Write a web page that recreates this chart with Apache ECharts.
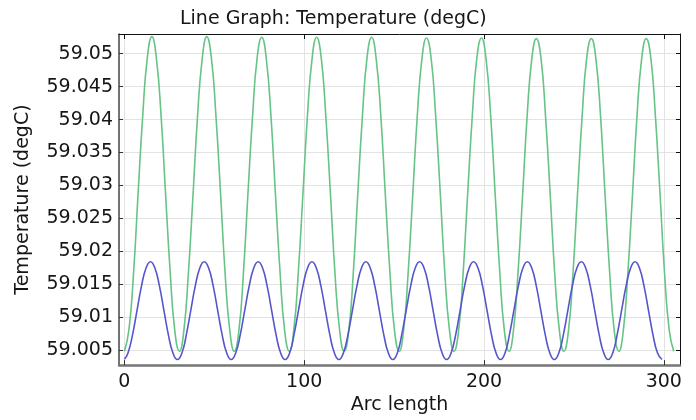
<!DOCTYPE html>
<html>
<head>
<meta charset="utf-8">
<script src="https://cdn.jsdelivr.net/npm/echarts@6/dist/echarts.min.js"></script>
<style>
  html, body { margin: 0; padding: 0; background: #ffffff; }
  #chart { width: 696px; height: 420px; }
</style>
</head>
<body>
<div id="chart"></div>
<script>
// Temperature along the arc, upper (green) line
const greenArc = [
  0, 2.5, 5.1, 7.6, 10.2, 12.7, 15.3, 17.8, 20.4, 22.9, 25.5, 28.0,
  30.6, 33.1, 35.6, 38.2, 40.7, 43.3, 45.8, 48.4, 50.9, 53.5, 56.0, 58.6,
  61.1, 63.7, 66.2, 68.7, 71.3, 73.8, 76.4, 78.9, 81.5, 84.0, 86.6, 89.1,
  91.7, 94.2, 96.7, 99.3, 101.8, 104.4, 106.9, 109.5, 112.0, 114.6, 117.1, 119.7,
  122.2, 124.8, 127.3, 129.8, 132.4, 134.9, 137.5, 140.0, 142.6, 145.1, 147.7, 150.2,
  152.8, 155.3, 157.8, 160.4, 162.9, 165.5, 168.0, 170.6, 173.1, 175.7, 178.2, 180.8,
  183.3, 185.9, 188.4, 190.9, 193.5, 196.0, 198.6, 201.1, 203.7, 206.2, 208.8, 211.3,
  213.9, 216.4, 218.9, 221.5, 224.0, 226.6, 229.1, 231.7, 234.2, 236.8, 239.3, 241.9,
  244.4, 247.0, 249.5, 252.0, 254.6, 257.1, 259.7, 262.2, 264.8, 267.3, 269.9, 272.4,
  275.0, 277.5, 280.0, 282.6, 285.1, 287.7, 290.2, 292.8, 295.3, 297.9, 300.4, 303.0,
  305.5
];
const greenTemp = [
  59.0048, 59.0080, 59.0167, 59.0287, 59.0406, 59.0493, 59.0526, 59.0493, 59.0406, 59.0287, 59.0167, 59.0080,
  59.0048, 59.0080, 59.0167, 59.0287, 59.0406, 59.0493, 59.0526, 59.0493, 59.0406, 59.0287, 59.0167, 59.0080,
  59.0048, 59.0080, 59.0167, 59.0287, 59.0406, 59.0493, 59.0525, 59.0493, 59.0406, 59.0287, 59.0167, 59.0080,
  59.0048, 59.0080, 59.0167, 59.0287, 59.0406, 59.0493, 59.0525, 59.0493, 59.0406, 59.0287, 59.0167, 59.0080,
  59.0048, 59.0080, 59.0167, 59.0287, 59.0406, 59.0493, 59.0525, 59.0493, 59.0406, 59.0287, 59.0167, 59.0080,
  59.0048, 59.0080, 59.0167, 59.0287, 59.0406, 59.0493, 59.0524, 59.0493, 59.0406, 59.0287, 59.0167, 59.0080,
  59.0048, 59.0080, 59.0167, 59.0287, 59.0406, 59.0493, 59.0524, 59.0493, 59.0406, 59.0287, 59.0167, 59.0080,
  59.0048, 59.0080, 59.0167, 59.0287, 59.0406, 59.0493, 59.0523, 59.0493, 59.0406, 59.0287, 59.0167, 59.0080,
  59.0048, 59.0080, 59.0167, 59.0287, 59.0406, 59.0493, 59.0523, 59.0493, 59.0406, 59.0287, 59.0167, 59.0080,
  59.0048, 59.0080, 59.0167, 59.0287, 59.0406, 59.0493, 59.0523, 59.0493, 59.0406, 59.0287, 59.0167, 59.0080,
  59.0048
];

// Temperature along the arc, lower (blue) line
const blueArc = [
  0, 2.0, 4.5, 7.0, 9.5, 12.0, 14.5, 17.0, 19.5, 22.0, 24.5, 27.0,
  29.5, 32.0, 34.4, 36.9, 39.4, 41.9, 44.4, 46.9, 49.4, 51.9, 54.4, 56.9,
  59.4, 61.9, 64.4, 66.9, 69.4, 71.9, 74.4, 76.9, 79.4, 81.9, 84.4, 86.9,
  89.4, 91.9, 94.3, 96.8, 99.3, 101.8, 104.3, 106.8, 109.3, 111.8, 114.3, 116.8,
  119.3, 121.8, 124.3, 126.8, 129.3, 131.8, 134.3, 136.8, 139.3, 141.8, 144.3, 146.8,
  149.3, 151.8, 154.2, 156.7, 159.2, 161.7, 164.2, 166.7, 169.2, 171.7, 174.2, 176.7,
  179.2, 181.7, 184.2, 186.7, 189.2, 191.7, 194.2, 196.7, 199.2, 201.7, 204.2, 206.7,
  209.2, 211.7, 214.1, 216.6, 219.1, 221.6, 224.1, 226.6, 229.1, 231.6, 234.1, 236.6,
  239.1, 241.6, 244.1, 246.6, 249.1, 251.6, 254.1, 256.6, 259.1, 261.6, 264.1, 266.6,
  269.1, 271.6, 274.0, 276.5, 279.0, 281.5, 284.0, 286.5, 289.0, 291.5, 294.0, 296.5,
  299.0
];
const blueTemp = [
  59.00360, 59.00455, 59.00726, 59.01098, 59.01469, 59.01740, 59.01840, 59.01740, 59.01469, 59.01098, 59.00726, 59.00455,
  59.00355, 59.00455, 59.00726, 59.01098, 59.01469, 59.01740, 59.01840, 59.01740, 59.01469, 59.01098, 59.00726, 59.00455,
  59.00355, 59.00455, 59.00726, 59.01098, 59.01469, 59.01740, 59.01840, 59.01740, 59.01469, 59.01098, 59.00726, 59.00455,
  59.00355, 59.00455, 59.00726, 59.01098, 59.01469, 59.01740, 59.01840, 59.01740, 59.01469, 59.01098, 59.00726, 59.00455,
  59.00355, 59.00455, 59.00726, 59.01098, 59.01469, 59.01740, 59.01840, 59.01740, 59.01469, 59.01098, 59.00726, 59.00455,
  59.00355, 59.00455, 59.00726, 59.01098, 59.01469, 59.01740, 59.01840, 59.01740, 59.01469, 59.01098, 59.00726, 59.00455,
  59.00355, 59.00455, 59.00726, 59.01098, 59.01469, 59.01740, 59.01840, 59.01740, 59.01469, 59.01098, 59.00726, 59.00455,
  59.00355, 59.00455, 59.00726, 59.01098, 59.01469, 59.01740, 59.01840, 59.01740, 59.01469, 59.01098, 59.00726, 59.00455,
  59.00355, 59.00455, 59.00726, 59.01098, 59.01469, 59.01740, 59.01840, 59.01740, 59.01469, 59.01098, 59.00726, 59.00455,
  59.00355, 59.00455, 59.00726, 59.01098, 59.01469, 59.01740, 59.01840, 59.01740, 59.01469, 59.01098, 59.00726, 59.00455,
  59.00355
];

// Axis ticks
const xTicks = [0, 100, 200, 300];
const yTicks = [59.005, 59.01, 59.015, 59.02, 59.025, 59.03, 59.035, 59.04, 59.045, 59.05];

const FONT = 'DejaVu Sans';
const TXT = '#161616';
const GRIDLINE = '#e3e3e3';

const pairs = (xs, ys) => xs.map((x, i) => [x, ys[i]]);

const chart = echarts.init(document.getElementById('chart'), null, { renderer: 'canvas' });

chart.setOption({
  animation: false,
  backgroundColor: '#ffffff',
  textStyle: { fontFamily: FONT },
  title: {
    text: 'Line Graph: Temperature (degC)',
    left: 175,
    top: 5,
    textStyle: { fontFamily: FONT, fontSize: 19, fontWeight: 'normal', color: TXT }
  },
  grid: { left: 119, right: 16, top: 34, bottom: 49, containLabel: false },
  xAxis: [
    {
      type: 'value',
      position: 'bottom',
      min: -3,
      max: 309,
      name: 'Arc length',
      nameLocation: 'middle',
      nameGap: 27,
      nameTextStyle: { fontFamily: FONT, fontSize: 19, color: TXT },
      axisLine: { onZero: false, lineStyle: { color: '#777777', width: 2.5 } },
      axisTick: { inside: true, length: 5, customValues: xTicks, lineStyle: { color: '#333333', width: 1 } },
      axisLabel: {
        customValues: xTicks, fontFamily: FONT, fontSize: 19, color: TXT, margin: 7,
        formatter: v => String(Math.round(v))
      },
      splitLine: { show: true, lineStyle: { color: GRIDLINE, width: 1 } }
    },
    {
      type: 'value',
      position: 'top',
      min: -3,
      max: 309,
      axisLine: { onZero: false, lineStyle: { color: '#111111', width: 1 } },
      axisTick: { inside: true, length: 5, customValues: xTicks, lineStyle: { color: '#111111', width: 1 } },
      axisLabel: { show: false },
      splitLine: { show: false }
    }
  ],
  yAxis: [
    {
      type: 'value',
      position: 'left',
      min: 59.0027,
      max: 59.0530,
      name: 'Temperature (degC)',
      nameLocation: 'middle',
      nameGap: 86,
      nameRotate: 90,
      nameTextStyle: { fontFamily: FONT, fontSize: 19, color: TXT },
      axisLine: { onZero: false, lineStyle: { color: '#444444', width: 1.5 } },
      axisTick: { inside: true, length: 4, customValues: yTicks, lineStyle: { color: '#333333', width: 1 } },
      axisLabel: {
        customValues: yTicks, fontFamily: FONT, fontSize: 19, color: TXT, margin: 6,
        formatter: v => String(parseFloat(v.toFixed(3)))
      },
      splitLine: { show: true, lineStyle: { color: GRIDLINE, width: 1 } }
    },
    {
      type: 'value',
      position: 'right',
      min: 59.0027,
      max: 59.0530,
      axisLine: { onZero: false, lineStyle: { color: '#111111', width: 1 } },
      axisTick: { inside: true, length: 4, customValues: yTicks, lineStyle: { color: '#111111', width: 1 } },
      axisLabel: { show: false },
      splitLine: { show: false }
    }
  ],
  series: [
    {
      name: 'upper',
      type: 'line',
      xAxisIndex: 0,
      yAxisIndex: 0,
      data: pairs(greenArc, greenTemp),
      showSymbol: false,
      smooth: 0.5,
      clip: true,
      lineStyle: { color: '#66c486', width: 1.6 }
    },
    {
      name: 'lower',
      type: 'line',
      xAxisIndex: 0,
      yAxisIndex: 0,
      data: pairs(blueArc, blueTemp),
      showSymbol: false,
      smooth: 0.5,
      clip: true,
      lineStyle: { color: '#5656cc', width: 1.6 }
    }
  ]
});
</script>
</body>
</html>
